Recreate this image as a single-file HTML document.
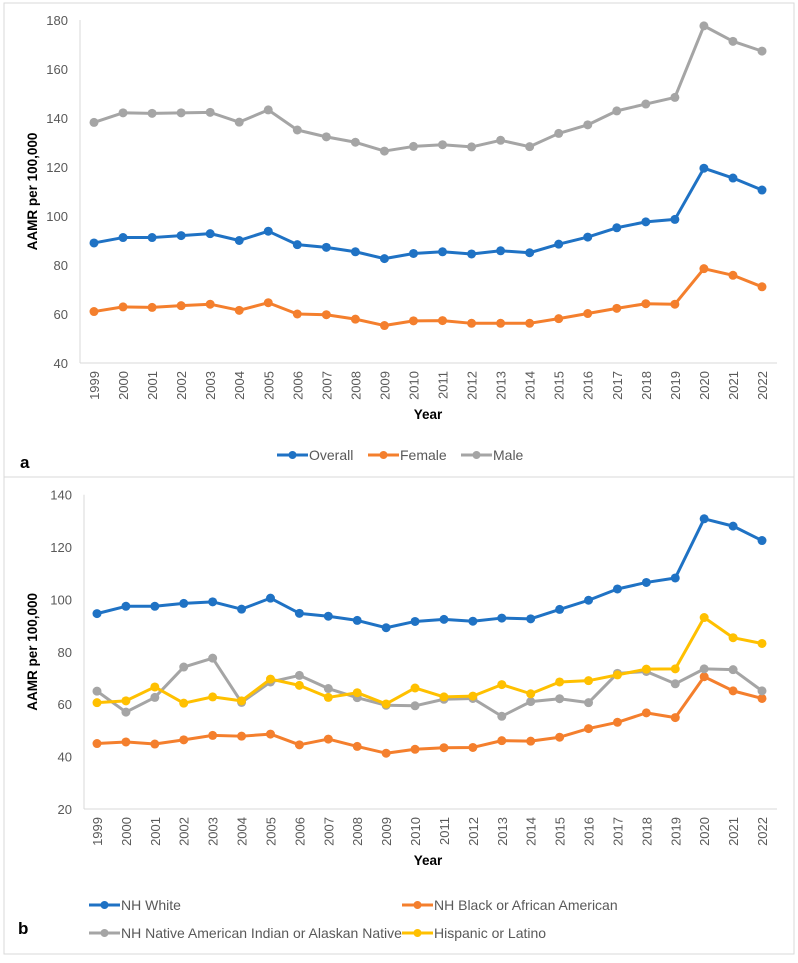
<!DOCTYPE html>
<html><head><meta charset="utf-8"><style>
body{margin:0;background:#fff;font-family:"Liberation Sans",sans-serif}
svg text{font-family:"Liberation Sans",sans-serif}
</style></head><body>
<svg id="c" width="798" height="958" xmlns="http://www.w3.org/2000/svg">
<rect x="4" y="3" width="790" height="474" fill="#fff" stroke="#d9d9d9"/>
<rect x="4" y="477" width="790" height="477" fill="#fff" stroke="#d9d9d9"/>
<text x="20" y="468" font-size="17" font-weight="bold">a</text>
<text x="18" y="934" font-size="17" font-weight="bold">b</text>
<g id="ga"></g><g id="gb"></g>
</svg>
<script>
const years=["1999","2000","2001","2002","2003","2004","2005","2006","2007","2008","2009","2010","2011","2012","2013","2014","2015","2016","2017","2018","2019","2020","2021","2022"];
const ticksA=[40,60,80,100,120,140,160,180];
const ticksB=[20,40,60,80,100,120,140];
const overall=[89,91.2,91.2,92,92.8,90,93.8,88.3,87.2,85.4,82.6,84.7,85.4,84.5,85.8,85.0,88.5,91.4,95.2,97.6,98.6,119.5,115.5,110.6];
const female=[61,62.9,62.7,63.4,64,61.5,64.6,60,59.7,57.9,55.3,57.2,57.3,56.2,56.2,56.2,58.1,60.2,62.3,64.2,64,78.5,75.8,71.1];
const male=[138.2,142.1,141.9,142.1,142.3,138.3,143.3,135.1,132.3,130.1,126.5,128.4,129.1,128.2,130.9,128.3,133.7,137.2,142.9,145.7,148.4,177.6,171.3,167.3];
const nhWhite=[94.6,97.4,97.4,98.5,99.1,96.3,100.5,94.7,93.6,92,89.2,91.6,92.4,91.7,92.9,92.6,96.2,99.7,104,106.5,108.2,130.8,128,122.5];
const nhBlack=[45,45.6,44.8,46.4,48.1,47.8,48.6,44.5,46.7,43.9,41.3,42.8,43.4,43.5,46.1,45.9,47.4,50.7,53.1,56.7,54.9,70.5,65.1,62.2];
const nhNative=[65,57,62.6,74.2,77.6,60.7,68.5,71,66,62.5,59.6,59.4,61.9,62.2,55.4,61,62.1,60.6,71.8,72.5,67.8,73.5,73.2,65.1];
const hispanic=[60.6,61.3,66.6,60.4,62.8,61.3,69.6,67.2,62.6,64.4,60.1,66.2,62.8,63.1,67.5,64,68.5,69,71.2,73.4,73.5,93.1,85.4,83.2];
const NS="http://www.w3.org/2000/svg";
function mk(p,t,a){const e=document.createElementNS(NS,t);for(const k in a)e.setAttribute(k,a[k]);p.appendChild(e);return e;}
function panel(g,cfg){
 const x=i=>cfg.x0+(cfg.x1-cfg.x0)*i/(years.length-1);
 const y=v=>cfg.yb+(cfg.yt-cfg.yb)*(v-cfg.vmin)/(cfg.vmax-cfg.vmin);
 let e=mk(g,'line',{x1:cfg.ax,x2:777,y1:cfg.yb,y2:cfg.yb,stroke:'#d9d9d9'});
 
 
 e=mk(g,'line',{x1:cfg.ax,x2:cfg.ax,y1:cfg.yt,y2:cfg.yb,stroke:'#d9d9d9'});
 
 
 cfg.ticks.forEach(t=>{const tx=mk(g,'text',{x:cfg.ax-12,y:y(t)+5,'text-anchor':'end','font-size':13,fill:'#595959'});tx.textContent=t;
  
  });
 years.forEach((yr,i)=>{const tx=mk(g,'text',{transform:`translate(${x(i)+5},${cfg.yb+8}) rotate(-90)`,'text-anchor':'end','font-size':13,fill:'#595959'});tx.textContent=yr;
  
  });
 let t=mk(g,'text',{x:428,y:cfg.yb+56,'text-anchor':'middle','font-size':13.5,'font-weight':'bold'});t.textContent='Year';
 
 
 t=mk(g,'text',{transform:`translate(37,${(cfg.yt+cfg.yb)/2}) rotate(-90)`,'text-anchor':'middle','font-size':13.5,'font-weight':'bold'});t.textContent='AAMR per 100,000';
 
 
 cfg.series.forEach(s=>{
  const sg=mk(g,'g',{});
  
  
  const l=mk(sg,'polyline',{points:s.d.map((v,i)=>x(i)+','+y(v)).join(' '),fill:'none',stroke:s.c,'stroke-width':3,'stroke-linejoin':'round'});
  
  
  s.d.forEach((v,i)=>{const c=mk(sg,'circle',{cx:x(i),cy:y(v),r:4.5,fill:s.c});
   
   });
  const lg=mk(g,'g',{});
  
  
  mk(lg,'line',{x1:s.lx,x2:s.lx+31,y1:s.ly,y2:s.ly,stroke:s.c,'stroke-width':3});
  mk(lg,'circle',{cx:s.lx+15.5,cy:s.ly,r:4,fill:s.c});
  const lt=mk(lg,'text',{x:s.lx+32,y:s.ly+5,'font-size':14,fill:'#595959'});lt.textContent=s.name;
 });
}
panel(document.getElementById('ga'),{x0:94,x1:762,ax:80,yt:20,yb:363,vmin:40,vmax:180,ticks:ticksA,series:[
 {id:'male',name:'Male',d:male,c:'#a5a5a5',lx:461,ly:455},
 {id:'overall',name:'Overall',d:overall,c:'#1f72c4',lx:277,ly:455},
 {id:'female',name:'Female',d:female,c:'#f47f2d',lx:368,ly:455}]});
panel(document.getElementById('gb'),{x0:97,x1:762,ax:84,yt:494.7,yb:809,vmin:20,vmax:140,ticks:ticksB,series:[
 {id:'nh-white',name:'NH White',d:nhWhite,c:'#1f72c4',lx:89,ly:905},
 {id:'nh-black',name:'NH Black or African American',d:nhBlack,c:'#f47f2d',lx:402,ly:905},
 {id:'nh-native',name:'NH Native American Indian or Alaskan Native',d:nhNative,c:'#a5a5a5',lx:89,ly:933},
 {id:'hispanic',name:'Hispanic or Latino',d:hispanic,c:'#ffc000',lx:402,ly:933}]});
</script>
</body></html>
